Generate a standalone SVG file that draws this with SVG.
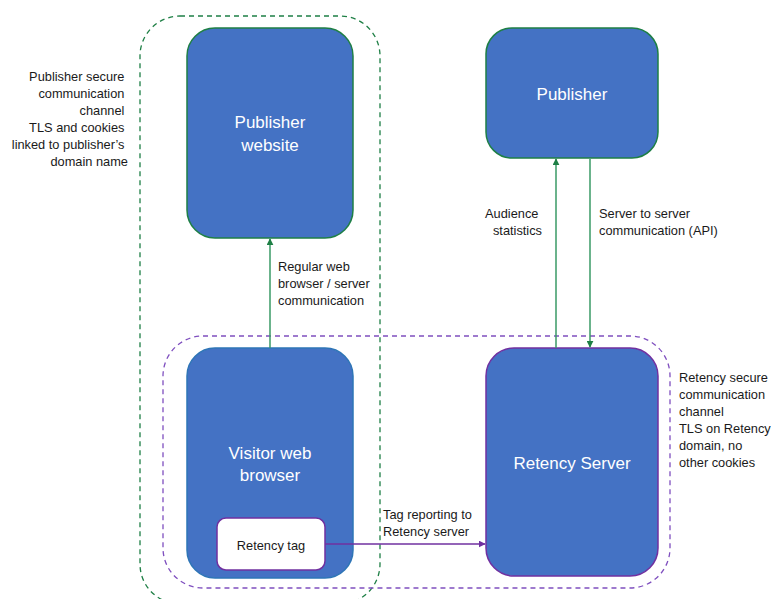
<svg xmlns="http://www.w3.org/2000/svg" width="771" height="599" viewBox="0 0 771 599">
<style>
.node{fill:#4472C4;stroke-width:1.5}
.g{stroke:#1E7F45}
.p{stroke:#7030A0}
.b{stroke:#2E75B6}
.wt{font-family:"Liberation Sans",Arial,sans-serif;font-size:17px;fill:#ffffff;text-anchor:middle}
.lb{font-family:"Liberation Sans",Arial,sans-serif;font-size:12.8px;fill:#1a1a1a}
.zone{fill:none;stroke-width:1.3;stroke-dasharray:5,4}
.conn{fill:none;stroke-width:1.5}
</style>
<defs>
<marker id="ag" viewBox="0 0 10 10" refX="9" refY="5" markerWidth="7" markerHeight="7" orient="auto" markerUnits="userSpaceOnUse"><path d="M0,0 L10,5 L0,10 z" fill="#1E7F45"/></marker>
<marker id="ap" viewBox="0 0 10 10" refX="9" refY="5" markerWidth="7" markerHeight="7" orient="auto" markerUnits="userSpaceOnUse"><path d="M0,0 L10,5 L0,10 z" fill="#7030A0"/></marker>
</defs>
<rect width="771" height="599" fill="#ffffff"/>

<g id="zones">
<rect class="zone" x="140" y="16" width="240" height="588" rx="40" stroke="#1E7F45"/>
<rect class="zone" x="163" y="336" width="507" height="252" rx="40" stroke="#7F4FBF"/>
</g>

<g id="publisher-website">
<rect class="node g" x="187" y="28" width="166" height="210" rx="28"/>
<text class="wt" x="270" y="128">Publisher</text>
<text class="wt" x="270" y="151">website</text>
</g>

<g id="publisher">
<rect class="node g" x="486" y="28" width="172" height="130" rx="26"/>
<text class="wt" x="572" y="100">Publisher</text>
</g>

<g id="visitor-browser">
<rect class="node b" x="187" y="348" width="166" height="230" rx="28"/>
<text class="wt" x="270" y="459">Visitor web</text>
<text class="wt" x="270" y="481">browser</text>
</g>

<g id="retency-tag">
<rect x="217" y="518" width="108" height="52" rx="9" fill="#ffffff" stroke="#7030A0" stroke-width="1.5"/>
<text class="lb" x="271" y="550" text-anchor="middle">Retency tag</text>
</g>

<g id="retency-server">
<rect class="node p" x="486" y="348" width="172" height="228" rx="28"/>
<text class="wt" x="572" y="469">Retency Server</text>
</g>

<g id="connectors">
<line class="conn" x1="270" y1="348" x2="270" y2="239" stroke="#3A9A66" marker-end="url(#ag)"/>
<line class="conn" x1="556" y1="348" x2="556" y2="159" stroke="#3A9A66" marker-end="url(#ag)"/>
<line class="conn" x1="590" y1="159" x2="590" y2="347" stroke="#3A9A66" marker-end="url(#ag)"/>
<line class="conn" x1="325" y1="544" x2="485" y2="544" stroke="#7030A0" marker-end="url(#ap)"/>
</g>

<g id="labels">
<text class="lb" text-anchor="end">
<tspan x="128" y="81">Publisher secure</tspan>
<tspan x="128" y="98">communication</tspan>
<tspan x="128" y="115">channel</tspan>
<tspan x="128" y="132">TLS and cookies</tspan>
<tspan x="128" y="149">linked to publisher’s</tspan>
<tspan x="128" y="166">domain name</tspan>
</text>
<text class="lb">
<tspan x="278" y="271">Regular web</tspan>
<tspan x="278" y="288">browser / server</tspan>
<tspan x="278" y="305">communication</tspan>
</text>
<text class="lb" text-anchor="end">
<tspan x="542" y="218">Audience</tspan>
<tspan x="542" y="235">statistics</tspan>
</text>
<text class="lb">
<tspan x="599" y="218">Server to server</tspan>
<tspan x="599" y="235">communication (API)</tspan>
</text>
<text class="lb">
<tspan x="383" y="519">Tag reporting to</tspan>
<tspan x="383" y="536">Retency server</tspan>
</text>
<text class="lb">
<tspan x="679" y="382">Retency secure</tspan>
<tspan x="679" y="399">communication</tspan>
<tspan x="679" y="416">channel</tspan>
<tspan x="679" y="433">TLS on Retency</tspan>
<tspan x="679" y="450">domain, no</tspan>
<tspan x="679" y="467">other cookies</tspan>
</text>
</g>
</svg>
